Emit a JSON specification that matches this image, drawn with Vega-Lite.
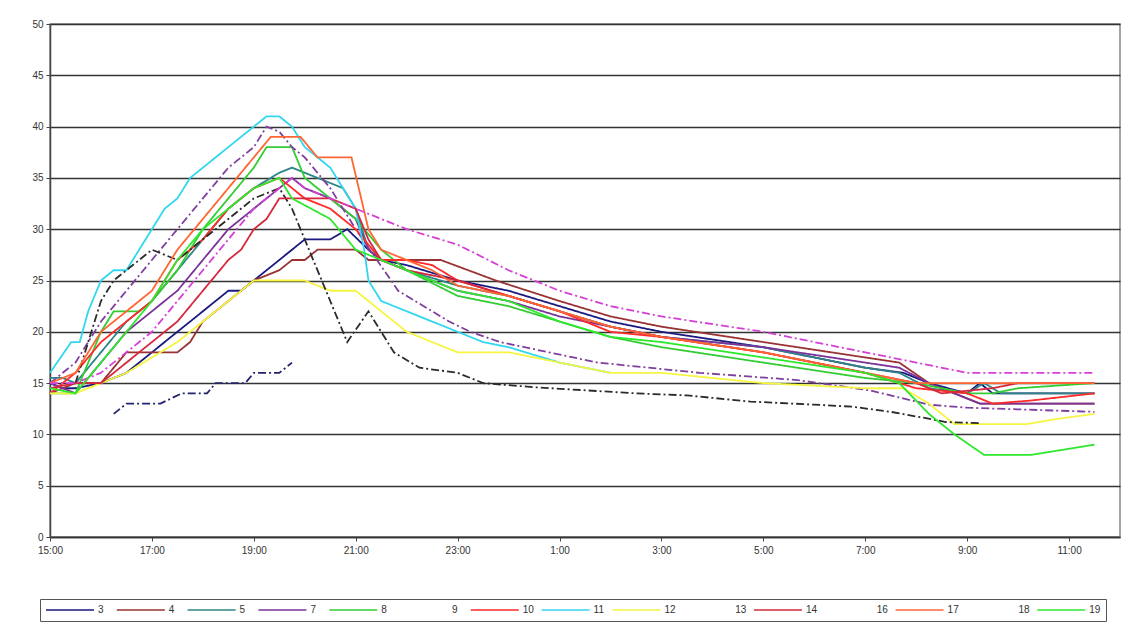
{
  "$schema": "https://vega.github.io/schema/vega-lite/v6.json",
  "width": 1070,
  "height": 513,
  "autosize": {"type": "none"},
  "padding": {"left": 50, "top": 24, "right": 16, "bottom": 93},
  "background": "white",
  "config": {
    "font": "Liberation Sans",
    "view": {"stroke": "#888888", "strokeWidth": 1.5}
  },
  "data": {
    "format": {"parse": {"t": "date:'%d %H:%M'"}},
    "values": [
      {"s":"3","t":"01 15:00","v":15},{"s":"3","t":"01 15:15","v":14.5},{"s":"3","t":"01 15:30","v":14.5},{"s":"3","t":"01 16:00","v":15},{"s":"3","t":"01 16:30","v":16},{"s":"3","t":"01 17:00","v":18},{"s":"3","t":"01 17:30","v":20},{"s":"3","t":"01 18:00","v":22},{"s":"3","t":"01 18:15","v":23},{"s":"3","t":"01 18:30","v":24},{"s":"3","t":"01 18:45","v":24},{"s":"3","t":"01 19:00","v":25},{"s":"3","t":"01 19:30","v":27},{"s":"3","t":"01 19:45","v":28},{"s":"3","t":"01 20:00","v":29},{"s":"3","t":"01 20:30","v":29},{"s":"3","t":"01 20:50","v":30},{"s":"3","t":"01 21:15","v":28},{"s":"3","t":"01 21:30","v":27},{"s":"3","t":"01 22:00","v":26.5},{"s":"3","t":"01 23:00","v":25},{"s":"3","t":"02 00:00","v":24},{"s":"3","t":"02 01:00","v":22.5},{"s":"3","t":"02 02:00","v":21},{"s":"3","t":"02 03:00","v":20},{"s":"3","t":"02 05:00","v":18.5},{"s":"3","t":"02 07:00","v":16.5},{"s":"3","t":"02 07:45","v":16},{"s":"3","t":"02 08:15","v":15},{"s":"3","t":"02 09:00","v":14},{"s":"3","t":"02 09:15","v":15},{"s":"3","t":"02 09:30","v":14},{"s":"3","t":"02 10:00","v":14},{"s":"3","t":"02 11:30","v":14},

      {"s":"4","t":"01 15:00","v":14},{"s":"4","t":"01 15:30","v":15},{"s":"4","t":"01 16:00","v":15},{"s":"4","t":"01 16:30","v":18},{"s":"4","t":"01 17:00","v":18},{"s":"4","t":"01 17:30","v":18},{"s":"4","t":"01 17:45","v":19},{"s":"4","t":"01 18:00","v":21},{"s":"4","t":"01 18:30","v":23},{"s":"4","t":"01 19:00","v":25},{"s":"4","t":"01 19:30","v":26},{"s":"4","t":"01 19:45","v":27},{"s":"4","t":"01 20:00","v":27},{"s":"4","t":"01 20:15","v":28},{"s":"4","t":"01 21:00","v":28},{"s":"4","t":"01 21:15","v":27},{"s":"4","t":"01 22:00","v":27},{"s":"4","t":"01 22:40","v":27},{"s":"4","t":"01 23:45","v":25},{"s":"4","t":"02 01:00","v":23},{"s":"4","t":"02 02:00","v":21.5},{"s":"4","t":"02 03:00","v":20.5},{"s":"4","t":"02 05:00","v":19},{"s":"4","t":"02 07:00","v":17.5},{"s":"4","t":"02 07:40","v":17},{"s":"4","t":"02 08:15","v":15},{"s":"4","t":"02 08:45","v":14},{"s":"4","t":"02 09:15","v":13},{"s":"4","t":"02 10:00","v":13},{"s":"4","t":"02 11:30","v":13},

      {"s":"5","t":"01 15:00","v":15.5},{"s":"5","t":"01 15:15","v":15.5},{"s":"5","t":"01 15:30","v":15},{"s":"5","t":"01 16:00","v":18},{"s":"5","t":"01 16:30","v":21},{"s":"5","t":"01 17:00","v":23},{"s":"5","t":"01 17:30","v":26},{"s":"5","t":"01 18:00","v":29},{"s":"5","t":"01 18:30","v":32},{"s":"5","t":"01 19:00","v":34},{"s":"5","t":"01 19:30","v":35.5},{"s":"5","t":"01 19:45","v":36},{"s":"5","t":"01 20:00","v":35.5},{"s":"5","t":"01 20:30","v":34.5},{"s":"5","t":"01 20:45","v":34},{"s":"5","t":"01 21:00","v":32},{"s":"5","t":"01 21:15","v":28},{"s":"5","t":"01 21:30","v":27},{"s":"5","t":"01 22:00","v":26},{"s":"5","t":"01 23:00","v":24.5},{"s":"5","t":"02 00:00","v":23.5},{"s":"5","t":"02 01:00","v":22},{"s":"5","t":"02 02:00","v":20.5},{"s":"5","t":"02 03:00","v":19.5},{"s":"5","t":"02 05:00","v":18.5},{"s":"5","t":"02 07:00","v":16.5},{"s":"5","t":"02 07:40","v":16},{"s":"5","t":"02 08:15","v":14.5},{"s":"5","t":"02 09:00","v":14},{"s":"5","t":"02 09:20","v":15},{"s":"5","t":"02 09:40","v":14},{"s":"5","t":"02 10:30","v":14},{"s":"5","t":"02 11:30","v":14},

      {"s":"7","t":"01 15:00","v":15},{"s":"7","t":"01 15:30","v":14},{"s":"7","t":"01 16:00","v":17},{"s":"7","t":"01 16:30","v":20},{"s":"7","t":"01 17:00","v":22},{"s":"7","t":"01 17:30","v":24},{"s":"7","t":"01 18:00","v":27},{"s":"7","t":"01 18:30","v":30},{"s":"7","t":"01 19:00","v":32},{"s":"7","t":"01 19:30","v":34},{"s":"7","t":"01 19:45","v":35},{"s":"7","t":"01 20:00","v":34},{"s":"7","t":"01 20:30","v":33},{"s":"7","t":"01 21:00","v":31},{"s":"7","t":"01 21:15","v":28},{"s":"7","t":"01 21:30","v":27},{"s":"7","t":"01 22:00","v":26},{"s":"7","t":"01 23:00","v":24},{"s":"7","t":"02 00:00","v":23},{"s":"7","t":"02 01:00","v":21.5},{"s":"7","t":"02 02:00","v":20.5},{"s":"7","t":"02 03:00","v":19.5},{"s":"7","t":"02 05:00","v":18.5},{"s":"7","t":"02 07:00","v":17},{"s":"7","t":"02 07:40","v":16.5},{"s":"7","t":"02 08:15","v":15},{"s":"7","t":"02 08:45","v":14},{"s":"7","t":"02 09:15","v":13},{"s":"7","t":"02 10:00","v":13},{"s":"7","t":"02 11:30","v":13},

      {"s":"8","t":"01 15:00","v":14},{"s":"8","t":"01 15:30","v":14},{"s":"8","t":"01 15:45","v":17},{"s":"8","t":"01 16:00","v":20},{"s":"8","t":"01 16:15","v":22},{"s":"8","t":"01 16:45","v":22},{"s":"8","t":"01 17:00","v":23},{"s":"8","t":"01 17:30","v":26},{"s":"8","t":"01 18:00","v":30},{"s":"8","t":"01 18:30","v":33},{"s":"8","t":"01 19:00","v":36},{"s":"8","t":"01 19:15","v":38},{"s":"8","t":"01 19:45","v":38},{"s":"8","t":"01 20:00","v":35},{"s":"8","t":"01 20:30","v":33},{"s":"8","t":"01 21:00","v":31},{"s":"8","t":"01 21:30","v":28},{"s":"8","t":"01 22:00","v":26},{"s":"8","t":"01 23:00","v":23.5},{"s":"8","t":"02 00:00","v":22.5},{"s":"8","t":"02 01:00","v":21},{"s":"8","t":"02 02:00","v":19.5},{"s":"8","t":"02 03:00","v":18.5},{"s":"8","t":"02 05:00","v":17},{"s":"8","t":"02 07:00","v":15.5},{"s":"8","t":"02 08:00","v":15},{"s":"8","t":"02 09:00","v":14},{"s":"8","t":"02 09:30","v":14},{"s":"8","t":"02 10:00","v":14.5},{"s":"8","t":"02 11:30","v":15},

      {"s":"9","t":"01 15:00","v":15},{"s":"9","t":"01 15:30","v":17},{"s":"9","t":"01 15:45","v":19},{"s":"9","t":"01 16:00","v":21},{"s":"9","t":"01 16:30","v":24},{"s":"9","t":"01 17:00","v":27},{"s":"9","t":"01 17:30","v":30},{"s":"9","t":"01 18:00","v":33},{"s":"9","t":"01 18:30","v":36},{"s":"9","t":"01 19:00","v":38},{"s":"9","t":"01 19:15","v":40},{"s":"9","t":"01 19:30","v":39.5},{"s":"9","t":"01 19:45","v":38},{"s":"9","t":"01 20:00","v":37},{"s":"9","t":"01 20:30","v":34},{"s":"9","t":"01 21:00","v":30},{"s":"9","t":"01 21:50","v":24},{"s":"9","t":"01 22:50","v":21},{"s":"9","t":"01 23:15","v":20},{"s":"9","t":"01 23:50","v":19},{"s":"9","t":"02 01:45","v":17},{"s":"9","t":"02 03:45","v":16},{"s":"9","t":"02 05:40","v":15.3},{"s":"9","t":"02 07:05","v":14.3},{"s":"9","t":"02 08:15","v":12.9},{"s":"9","t":"02 09:00","v":12.6},{"s":"9","t":"02 11:30","v":12.2},

      {"s":"10","t":"01 15:00","v":14},{"s":"10","t":"01 15:30","v":16},{"s":"10","t":"01 16:00","v":19},{"s":"10","t":"01 16:30","v":21},{"s":"10","t":"01 17:00","v":23},{"s":"10","t":"01 17:30","v":27},{"s":"10","t":"01 18:00","v":29},{"s":"10","t":"01 18:30","v":32},{"s":"10","t":"01 19:00","v":34},{"s":"10","t":"01 19:30","v":35},{"s":"10","t":"01 20:00","v":33},{"s":"10","t":"01 20:30","v":32},{"s":"10","t":"01 21:00","v":30},{"s":"10","t":"01 21:30","v":27},{"s":"10","t":"01 22:00","v":27},{"s":"10","t":"01 22:30","v":26.5},{"s":"10","t":"01 23:00","v":25},{"s":"10","t":"02 00:00","v":23.5},{"s":"10","t":"02 01:00","v":22},{"s":"10","t":"02 02:00","v":20},{"s":"10","t":"02 03:00","v":19.5},{"s":"10","t":"02 05:00","v":18},{"s":"10","t":"02 07:00","v":16},{"s":"10","t":"02 08:00","v":14.5},{"s":"10","t":"02 09:00","v":14},{"s":"10","t":"02 09:30","v":13},{"s":"10","t":"02 10:15","v":13.3},{"s":"10","t":"02 11:30","v":14},

      {"s":"11","t":"01 15:00","v":16},{"s":"11","t":"01 15:25","v":19},{"s":"11","t":"01 15:35","v":19},{"s":"11","t":"01 15:45","v":22},{"s":"11","t":"01 16:00","v":25},{"s":"11","t":"01 16:15","v":26},{"s":"11","t":"01 16:30","v":26},{"s":"11","t":"01 16:45","v":28},{"s":"11","t":"01 17:00","v":30},{"s":"11","t":"01 17:15","v":32},{"s":"11","t":"01 17:30","v":33},{"s":"11","t":"01 17:45","v":35},{"s":"11","t":"01 18:00","v":36},{"s":"11","t":"01 18:15","v":37},{"s":"11","t":"01 18:30","v":38},{"s":"11","t":"01 18:45","v":39},{"s":"11","t":"01 19:00","v":40},{"s":"11","t":"01 19:15","v":41},{"s":"11","t":"01 19:30","v":41},{"s":"11","t":"01 19:45","v":40},{"s":"11","t":"01 20:00","v":38},{"s":"11","t":"01 20:15","v":37},{"s":"11","t":"01 20:30","v":36},{"s":"11","t":"01 20:45","v":34},{"s":"11","t":"01 21:00","v":32},{"s":"11","t":"01 21:10","v":28},{"s":"11","t":"01 21:15","v":25},{"s":"11","t":"01 21:30","v":23},{"s":"11","t":"01 22:00","v":22},{"s":"11","t":"01 22:30","v":21},{"s":"11","t":"01 23:00","v":20},{"s":"11","t":"01 23:30","v":19},{"s":"11","t":"02 00:00","v":18.5},{"s":"11","t":"02 01:00","v":17},{"s":"11","t":"02 02:00","v":16},

      {"s":"12","t":"01 15:00","v":14},{"s":"12","t":"01 15:30","v":14},{"s":"12","t":"01 16:00","v":15},{"s":"12","t":"01 16:30","v":16},{"s":"12","t":"01 17:00","v":17.5},{"s":"12","t":"01 17:30","v":19},{"s":"12","t":"01 18:00","v":21},{"s":"12","t":"01 18:30","v":23},{"s":"12","t":"01 19:00","v":25},{"s":"12","t":"01 19:30","v":25},{"s":"12","t":"01 20:00","v":25},{"s":"12","t":"01 20:30","v":24},{"s":"12","t":"01 21:00","v":24},{"s":"12","t":"01 21:30","v":22},{"s":"12","t":"01 22:00","v":20},{"s":"12","t":"01 22:30","v":19},{"s":"12","t":"01 23:00","v":18},{"s":"12","t":"02 00:00","v":18},{"s":"12","t":"02 01:00","v":17},{"s":"12","t":"02 02:00","v":16},{"s":"12","t":"02 03:00","v":16},{"s":"12","t":"02 05:00","v":15},{"s":"12","t":"02 07:00","v":14.5},{"s":"12","t":"02 07:45","v":14.5},{"s":"12","t":"02 08:15","v":13},{"s":"12","t":"02 08:45","v":11},{"s":"12","t":"02 09:30","v":11},{"s":"12","t":"02 10:10","v":11},{"s":"12","t":"02 10:45","v":11.5},{"s":"12","t":"02 11:30","v":12},

      {"s":"13","t":"01 15:30","v":15},{"s":"13","t":"01 15:45","v":19},{"s":"13","t":"01 16:00","v":23},{"s":"13","t":"01 16:15","v":25},{"s":"13","t":"01 16:45","v":27},{"s":"13","t":"01 17:00","v":28},{"s":"13","t":"01 17:30","v":27},{"s":"13","t":"01 18:00","v":29},{"s":"13","t":"01 18:30","v":31},{"s":"13","t":"01 19:00","v":33},{"s":"13","t":"01 19:30","v":34},{"s":"13","t":"01 19:45","v":32},{"s":"13","t":"01 20:00","v":29},{"s":"13","t":"01 20:30","v":23},{"s":"13","t":"01 20:50","v":19},{"s":"13","t":"01 21:15","v":22},{"s":"13","t":"01 21:45","v":18},{"s":"13","t":"01 22:15","v":16.5},{"s":"13","t":"01 23:00","v":16},{"s":"13","t":"01 23:30","v":15},{"s":"13","t":"02 00:30","v":14.6},{"s":"13","t":"02 02:30","v":14},{"s":"13","t":"02 03:30","v":13.8},{"s":"13","t":"02 04:45","v":13.2},{"s":"13","t":"02 06:00","v":12.9},{"s":"13","t":"02 06:45","v":12.7},{"s":"13","t":"02 07:30","v":12.2},{"s":"13","t":"02 08:10","v":11.6},{"s":"13","t":"02 08:35","v":11.2},{"s":"13","t":"02 09:15","v":11.1},

      {"s":"14","t":"01 15:00","v":14.5},{"s":"14","t":"01 15:30","v":15},{"s":"14","t":"01 16:00","v":15},{"s":"14","t":"01 16:30","v":17},{"s":"14","t":"01 17:00","v":19},{"s":"14","t":"01 17:30","v":21},{"s":"14","t":"01 18:00","v":24},{"s":"14","t":"01 18:30","v":27},{"s":"14","t":"01 18:45","v":28},{"s":"14","t":"01 19:00","v":30},{"s":"14","t":"01 19:15","v":31},{"s":"14","t":"01 19:30","v":33},{"s":"14","t":"01 20:30","v":33},{"s":"14","t":"01 21:00","v":32},{"s":"14","t":"01 21:15","v":29},{"s":"14","t":"01 21:30","v":27},{"s":"14","t":"01 22:00","v":26},{"s":"14","t":"01 23:00","v":25},{"s":"14","t":"02 00:00","v":23.5},{"s":"14","t":"02 01:00","v":22},{"s":"14","t":"02 02:00","v":20.5},{"s":"14","t":"02 03:00","v":19.5},{"s":"14","t":"02 05:00","v":18},{"s":"14","t":"02 07:00","v":16},{"s":"14","t":"02 08:00","v":15},{"s":"14","t":"02 08:30","v":14},{"s":"14","t":"02 09:30","v":14.5},{"s":"14","t":"02 10:00","v":15},{"s":"14","t":"02 11:30","v":15},

      {"s":"16","t":"01 16:15","v":12},{"s":"16","t":"01 16:30","v":13},{"s":"16","t":"01 17:10","v":13},{"s":"16","t":"01 17:35","v":14},{"s":"16","t":"01 18:05","v":14},{"s":"16","t":"01 18:15","v":15},{"s":"16","t":"01 18:50","v":15},{"s":"16","t":"01 19:00","v":16},{"s":"16","t":"01 19:30","v":16},{"s":"16","t":"01 19:45","v":17},

      {"s":"17","t":"01 15:00","v":15},{"s":"17","t":"01 15:30","v":16},{"s":"17","t":"01 16:00","v":20},{"s":"17","t":"01 16:30","v":22},{"s":"17","t":"01 17:00","v":24},{"s":"17","t":"01 17:30","v":28},{"s":"17","t":"01 18:00","v":31},{"s":"17","t":"01 18:30","v":34},{"s":"17","t":"01 19:00","v":37},{"s":"17","t":"01 19:20","v":39},{"s":"17","t":"01 19:55","v":39},{"s":"17","t":"01 20:15","v":37},{"s":"17","t":"01 20:55","v":37},{"s":"17","t":"01 21:15","v":30},{"s":"17","t":"01 21:30","v":28},{"s":"17","t":"01 22:00","v":27},{"s":"17","t":"01 22:30","v":26},{"s":"17","t":"01 23:00","v":24.5},{"s":"17","t":"02 00:00","v":23.5},{"s":"17","t":"02 01:00","v":22},{"s":"17","t":"02 02:00","v":20.5},{"s":"17","t":"02 03:00","v":19.5},{"s":"17","t":"02 05:00","v":18},{"s":"17","t":"02 07:00","v":16},{"s":"17","t":"02 08:00","v":15},{"s":"17","t":"02 09:00","v":15},{"s":"17","t":"02 11:30","v":15},

      {"s":"18","t":"01 15:00","v":15},{"s":"18","t":"01 15:30","v":15},{"s":"18","t":"01 16:00","v":16},{"s":"18","t":"01 16:30","v":18},{"s":"18","t":"01 17:00","v":20},{"s":"18","t":"01 17:30","v":23},{"s":"18","t":"01 18:00","v":26},{"s":"18","t":"01 18:30","v":29},{"s":"18","t":"01 19:00","v":32},{"s":"18","t":"01 19:30","v":34},{"s":"18","t":"01 19:45","v":35},{"s":"18","t":"01 20:00","v":34},{"s":"18","t":"01 20:30","v":33},{"s":"18","t":"01 21:00","v":32},{"s":"18","t":"01 21:30","v":31},{"s":"18","t":"01 22:00","v":30},{"s":"18","t":"01 23:00","v":28.5},{"s":"18","t":"02 00:00","v":26},{"s":"18","t":"02 01:00","v":24},{"s":"18","t":"02 02:00","v":22.5},{"s":"18","t":"02 03:00","v":21.5},{"s":"18","t":"02 05:00","v":20},{"s":"18","t":"02 07:00","v":18},{"s":"18","t":"02 08:00","v":17},{"s":"18","t":"02 09:00","v":16},{"s":"18","t":"02 11:30","v":16},

      {"s":"19","t":"01 15:00","v":14.5},{"s":"19","t":"01 15:30","v":14},{"s":"19","t":"01 16:00","v":17},{"s":"19","t":"01 16:30","v":20},{"s":"19","t":"01 17:00","v":23},{"s":"19","t":"01 17:30","v":27},{"s":"19","t":"01 18:00","v":30},{"s":"19","t":"01 18:30","v":32},{"s":"19","t":"01 19:00","v":34},{"s":"19","t":"01 19:30","v":35},{"s":"19","t":"01 19:45","v":33},{"s":"19","t":"01 20:30","v":31},{"s":"19","t":"01 21:00","v":28},{"s":"19","t":"01 21:30","v":27},{"s":"19","t":"01 22:00","v":26},{"s":"19","t":"01 23:00","v":24},{"s":"19","t":"02 00:00","v":23},{"s":"19","t":"02 01:00","v":21},{"s":"19","t":"02 02:00","v":19.5},{"s":"19","t":"02 03:00","v":19},{"s":"19","t":"02 05:00","v":17.5},{"s":"19","t":"02 07:00","v":16},{"s":"19","t":"02 07:40","v":15},{"s":"19","t":"02 08:15","v":12},{"s":"19","t":"02 08:45","v":10},{"s":"19","t":"02 09:20","v":8},{"s":"19","t":"02 10:15","v":8},{"s":"19","t":"02 11:30","v":9}
    ]
  },
  "mark": {"type": "line", "strokeWidth": 1.8, "interpolate": "linear"},
  "encoding": {
    "x": {
      "field": "t",
      "type": "temporal",
      "scale": {"domain": [{"year": 1900, "month": 1, "date": 1, "hours": 15}, {"year": 1900, "month": 1, "date": 2, "hours": 12}]},
      "axis": {
        "title": null,
        "grid": false,
        "format": "%-H:%M",
        "values": [
          {"year": 1900, "month": 1, "date": 1, "hours": 15},
          {"year": 1900, "month": 1, "date": 1, "hours": 17},
          {"year": 1900, "month": 1, "date": 1, "hours": 19},
          {"year": 1900, "month": 1, "date": 1, "hours": 21},
          {"year": 1900, "month": 1, "date": 1, "hours": 23},
          {"year": 1900, "month": 1, "date": 2, "hours": 1},
          {"year": 1900, "month": 1, "date": 2, "hours": 3},
          {"year": 1900, "month": 1, "date": 2, "hours": 5},
          {"year": 1900, "month": 1, "date": 2, "hours": 7},
          {"year": 1900, "month": 1, "date": 2, "hours": 9},
          {"year": 1900, "month": 1, "date": 2, "hours": 11}
        ],
        "labelFontSize": 10,
        "labelColor": "#333333",
        "labelPadding": 4,
        "labelFlush": false,
        "labelOverlap": false,
        "tickSize": 4,
        "tickColor": "#444444",
        "domainColor": "#333333",
        "domainWidth": 1.5
      }
    },
    "y": {
      "field": "v",
      "type": "quantitative",
      "scale": {"domain": [0, 50], "nice": false},
      "axis": {
        "title": null,
        "values": [0, 5, 10, 15, 20, 25, 30, 35, 40, 45, 50],
        "labelFontSize": 10,
        "labelColor": "#333333",
        "labelPadding": 3,
        "tickSize": 4,
        "tickColor": "#444444",
        "domainColor": "#444444",
        "domainWidth": 1.5,
        "gridColor": "#333333",
        "gridWidth": 1.6
      }
    },
    "color": {
      "field": "s",
      "type": "nominal",
      "scale": {
        "domain": ["3", "4", "5", "7", "8", "9", "10", "11", "12", "13", "14", "16", "17", "18", "19"],
        "range": ["#1a1a80", "#993333", "#2e8585", "#7a3399", "#33cc33", "#7f3f9f", "#ff2a2a", "#33d6f0", "#f5f542", "#2b2b2b", "#d6283c", "#22226e", "#ff6633", "#d63fd6", "#2ee82e"]
      },
      "legend": {
        "title": null,
        "orient": "none",
        "legendX": -10,
        "legendY": 575,
        "direction": "horizontal",
        "columns": 15,
        "gridAlign": "all",
        "columnPadding": 5.8,
        "symbolType": "stroke",
        "symbolSize": 2304,
        "symbolStrokeWidth": 1.5,
        "clipHeight": 12,
        "labelOffset": 3,
        "labelFontSize": 10,
        "labelColor": "#333333",
        "padding": 5,
        "strokeColor": "#555555",
        "fillColor": "white",
        "encode": {
          "symbols": {
            "update": {
              "strokeOpacity": {"signal": "indexof(['9','13','16','18'], datum.label) >= 0 ? 0 : 1"}
            }
          }
        }
      }
    },
    "strokeDash": {
      "field": "s",
      "type": "nominal",
      "scale": {
        "domain": ["3", "4", "5", "7", "8", "9", "10", "11", "12", "13", "14", "16", "17", "18", "19"],
        "range": [[1, 0], [1, 0], [1, 0], [1, 0], [1, 0], [8, 3, 2, 3], [1, 0], [1, 0], [1, 0], [8, 3, 2, 3], [1, 0], [8, 3, 2, 3], [1, 0], [8, 3, 2, 3], [1, 0]]
      },
      "legend": null
    }
  }
}
